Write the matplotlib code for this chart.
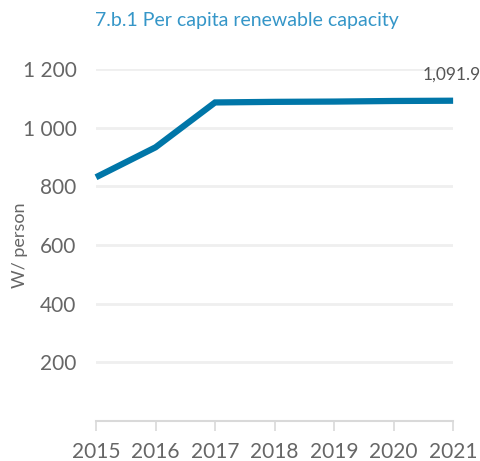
import matplotlib
matplotlib.use("Agg")
import matplotlib.pyplot as plt

# datos
anios = [2015, 2016, 2017, 2018, 2019, 2020, 2021]
capacidad = [831, 933, 1086, 1088, 1089, 1091, 1091.9]
ticks_y = [200, 400, 600, 800, 1000, 1200]
etiquetas_y = ["200", "400", "600", "800", "1 000", "1 200"]

plt.rcParams['font.family'] = ['Lato', 'DejaVu Sans']

fig = plt.figure(figsize=(4.8, 4.61), dpi=100)
ax = fig.add_axes([0.2, 0.0868, 0.744, 0.7635])

# lineas de referencia
for v in ticks_y:
    ax.axhline(v, color="#efefef", lw=2, zorder=0)

ax.plot(anios, capacidad, color="#0076a8", lw=4.5, solid_capstyle="butt",
        solid_joinstyle="miter", clip_on=False, zorder=3)

ax.set_xlim(2015, 2021)
ax.set_ylim(0, 1200)
ax.set_xticks(anios)
ax.set_xticklabels([str(a) for a in anios])
ax.set_yticks(ticks_y)
ax.set_yticklabels(etiquetas_y)

for s in ["top", "right", "left"]:
    ax.spines[s].set_visible(False)
ax.spines["bottom"].set_color("#d9d9d9")
ax.spines["bottom"].set_linewidth(1.5)

ax.tick_params(axis="x", colors="#d9d9d9", length=7, width=1.2,
               labelcolor="#666666", labelsize=15, pad=8)
ax.tick_params(axis="y", length=0, labelcolor="#666666", labelsize=15, pad=14)

ax.set_ylabel("W/ person", color="#666666", fontsize=13)
ax.yaxis.set_label_coords(-0.19, 0.5)

# valor final
ax.annotate("1,091.9", xy=(2021, capacidad[-1]), xytext=(20, 19),
            textcoords="offset points", ha="right", va="center",
            color="#555555", fontsize=12.5)

fig.text(0.198, 0.955, "7.b.1 Per capita renewable capacity", color="#3596c8",
         fontsize=14, ha="left", va="center")

fig.savefig("out.png", dpi=100)
